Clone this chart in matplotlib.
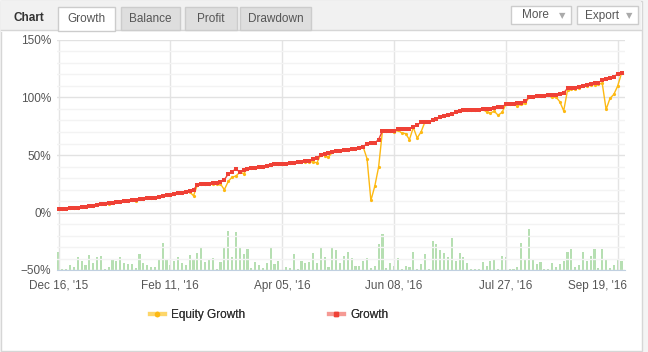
import matplotlib
matplotlib.use("Agg")
import matplotlib.pyplot as plt
from matplotlib.patches import Rectangle
from matplotlib.lines import Line2D
from matplotlib.transforms import ScaledTranslation

plt.rcParams["font.family"] = ["Liberation Sans", "DejaVu Sans"]

# growth in %, one value per point
growth = [3.2, 3.3, 3.3, 3.5, 3.8, 4.1, 4.5, 5.0, 5.4, 6.0,
          6.6, 7.0, 7.5, 8.1, 8.5, 9.0, 9.5, 9.8, 10.2, 10.5,
          11.0, 11.6, 11.9, 12.2, 12.4, 12.7, 13.5, 14.5, 15.2, 15.6,
          16.0, 16.8, 17.2, 17.8, 19.0, 19.8, 24.0, 24.6, 25.0, 25.2,
          25.5, 25.8, 26.3, 28.5, 33.5, 35.5, 38.0, 35.0, 37.2, 38.0,
          38.4, 38.8, 39.2, 39.6, 40.2, 41.5, 41.8, 42.2, 42.5, 42.6,
          42.8, 43.4, 43.8, 44.2, 44.6, 45.2, 46.2, 47.0, 50.3, 51.0,
          51.6, 52.2, 53.2, 53.5, 54.0, 54.5, 55.0, 55.6, 56.2, 57.0,
          60.0, 60.2, 60.5, 63.4, 71.0, 71.0, 71.2, 71.3, 72.4, 72.6,
          72.8, 73.0, 74.4, 76.0, 78.5, 78.6, 78.8, 80.5, 81.7, 83.0,
          84.0, 85.0, 86.0, 87.0, 88.4, 88.8, 89.0, 89.2, 89.3, 89.4,
          89.6, 89.8, 90.2, 90.8, 91.5, 92.0, 94.0, 94.3, 94.5, 94.8,
          95.5, 96.9, 100.0, 100.5, 101.0, 101.3, 101.5, 101.8, 102.0, 102.4,
          102.7, 104.1, 108.0, 108.3, 108.6, 109.2, 110.0, 111.0, 111.6, 112.2,
          112.8, 115.2, 116.0, 116.8, 118.0, 120.5, 121.2]

equity = [3.2, 3.3, 3.3, 3.5, 3.8, 4.1, 4.5, 5.0, 5.4, 6.0,
          6.6, 7.0, 7.5, 7.2, 8.5, 9.0, 9.5, 9.8, 10.2, 10.5,
          9.6, 11.6, 11.9, 12.2, 12.4, 12.7, 13.5, 14.5, 15.2, 15.6,
          16.0, 16.8, 17.2, 17.8, 18.0, 14.5, 24.0, 24.6, 25.0, 25.2,
          24.5, 24.5, 24.8, 19.8, 27.0, 30.8, 31.7, 35.0, 33.8, 38.0,
          38.4, 38.8, 39.2, 39.6, 40.2, 41.5, 41.8, 42.2, 42.5, 42.6,
          42.8, 43.4, 43.8, 43.6, 43.8, 44.2, 44.0, 43.2, 50.3, 49.5,
          48.3, 52.2, 53.2, 53.5, 54.0, 54.5, 55.0, 55.6, 56.2, 57.0,
          46.8, 10.5, 22.7, 39.5, 71.0, 71.0, 71.0, 70.0, 71.5, 69.2,
          68.6, 63.4, 74.0, 64.8, 70.0, 78.6, 78.8, 80.5, 81.7, 83.0,
          84.0, 85.0, 86.0, 87.0, 88.4, 88.8, 89.0, 89.2, 89.3, 89.4,
          89.6, 87.5, 86.7, 88.0, 84.6, 87.0, 94.0, 94.3, 94.0, 93.0,
          94.0, 94.8, 100.0, 100.5, 101.0, 101.3, 101.5, 101.8, 100.0, 100.5,
          96.3, 88.4, 106.5, 107.5, 107.8, 108.4, 110.0, 110.2, 110.8, 111.3,
          111.6, 112.3, 89.6, 99.2, 102.7, 110.0, 121.2]

# bar series (right axis, no scale shown)
volume = [17.7, 1.0, 1.0, 4.7, 2.7, 12.7, 8.7, 4.7, 14.7, 7.3,
          12.7, 14.3, 0.7, 2.7, 10.7, 9.3, 12.7, 6.7, 5.7, 5.7,
          1.7, 15.7, 6.7, 4.7, 2.7, 2.7, 9.7, 26.7, 9.7, 4.7,
          8.7, 12.7, 6.7, 4.7, 14.7, 10.7, 16.7, 23.5, 7.7, 11.0,
          12.3, 1.0, 8.3, 21.7, 39.0, 13.3, 37.7, 22.7, 15.7, 20.7,
          1.7, 8.3, 5.0, 1.7, 6.7, 21.7, 5.7, 9.3, 0.3, 2.7,
          1.7, 15.7, 0.7, 9.3, 6.7, 8.3, 16.7, 7.3, 21.7, 12.7,
          2.7, 21.7, 20.3, 7.3, 14.3, 18.3, 11.7, 4.3, 4.3, 9.3,
          11.7, 1.7, 4.3, 25.7, 35.7, 1.7, 6.7, 4.0, 12.3, 0.7,
          4.0, 3.3, 18.3, 1.0, 5.7, 15.7, 0.7, 29.3, 25.7, 20.3,
          17.3, 13.3, 32.3, 9.3, 16.7, 13.3, 6.7, 0.7, 1.3, 1.3,
          8.3, 4.3, 9.3, 10.7, 1.3, 14.3, 12.7, 0.7, 1.3, 2.7,
          26.7, 9.7, 40.7, 10.7, 6.3, 7.7, 0.7, 1.3, 6.7, 2.7,
          5.7, 8.7, 18.3, 20.7, 2.7, 4.7, 17.7, 8.7, 14.3, 21.3,
          2.3, 21.3, 9.7, 2.3, 4.7, 10.3, 8.7]

tick_pos = [0, 29, 58, 87, 116, 145]
tick_labels = ["Dec 16, '15", "Feb 11, '16", "Apr 05, '16",
               "Jun 08, '16", "Jul 27, '16", "Sep 19, '16"]

x = list(range(len(growth)))

fig = plt.figure(figsize=(6.48, 3.52), dpi=100)
W, H = 648, 352

# frame / header drawn in pixel coords
bg = fig.add_axes([0, 0, 1, 1], zorder=0)
bg.set_xlim(0, W)
bg.set_ylim(H, 0)
bg.axis("off")
bg.add_patch(Rectangle((0, 0), W, H, facecolor="#f4f4f4", edgecolor="none"))
bg.add_patch(Rectangle((0.5, 0.5), 641, 350, facecolor="white", edgecolor="#d6d6d6", lw=1))
bg.add_patch(Rectangle((1, 1), 640, 29, facecolor="#f1f1f1", edgecolor="none"))
bg.plot([1, 641], [30, 30], color="#d6d6d6", lw=1)
bg.text(13, 18, "Chart", fontsize=8.5, fontweight="bold", color="#333333", va="center")
tabs = [("Growth", 58, 57), ("Balance", 121, 59), ("Profit", 185, 52), ("Drawdown", 240, 71)]
for i, (name, tx, tw) in enumerate(tabs):
    fc = "white" if i == 0 else "#dedede"
    bg.add_patch(Rectangle((tx, 7), tw, 24 if i == 0 else 23, facecolor=fc,
                           edgecolor="#cccccc", lw=1, zorder=2))
    bg.text(tx + tw / 2, 18.5, name, fontsize=8.5, color="#555555", ha="center",
            va="center", zorder=3)
bg.add_patch(Rectangle((1, 30), 640, 2, facecolor="white", edgecolor="none", zorder=1))
for name, bx, bw in [("More", 511, 60), ("Export", 577, 61)]:
    bg.add_patch(Rectangle((bx, 6), bw, 18, facecolor="white", edgecolor="#cccccc", lw=1))
    bg.text(bx + bw / 2 - 6, 15.5, name, fontsize=8.5, color="#555555", ha="center", va="center")
    bg.text(bx + bw - 9, 15.5, "\u25bc", fontsize=6, color="#aaaaaa", ha="center",
            va="center", family="DejaVu Sans")

ax = fig.add_axes([57 / W, 1 - 270 / H, (625 - 57) / W, 230 / H], zorder=2)
ax.patch.set_alpha(0)
ax2 = ax.twinx()

ax.set_ylim(-50, 150)
ax.set_xlim(-0.4, 146.9)
ax.set_yticks([-50, 0, 50, 100, 150])
ax.set_yticklabels(["\u221250%", "0%", "50%", "100%", "150%"])
ax.set_yticks(range(-50, 151, 10), minor=True)
ax.set_xticks(tick_pos)
ax.set_xticklabels(tick_labels)
ax.grid(True, which="major", axis="y", color="#e2e2e2", lw=1)
ax.grid(True, which="minor", axis="y", color="#f3f3f3", lw=1)
ax.grid(True, which="major", axis="x", color="#e4e4e4", lw=1)
ax.tick_params(axis="both", which="both", length=0, labelsize=8.5, colors="#555555")
ax.tick_params(axis="x", pad=7)
ax.tick_params(axis="y", pad=4)
for s in ["top", "right", "left"]:
    ax.spines[s].set_visible(False)
ax.spines["bottom"].set_color("#c0d0e0")
ax.set_axisbelow(True)

# last date label is pushed inside the plot, like the original
last = ax.get_xticklabels()[-1]
last.set_horizontalalignment("right")
last.set_transform(last.get_transform() + ScaledTranslation(7 / 72, 0, fig.dpi_scale_trans))

ax2.bar(x, volume, width=0.55, color="#b6dfb2", zorder=1)
ax2.set_ylim(0, 230)
ax2.set_yticks([])
for s in ax2.spines.values():
    s.set_visible(False)

ax.set_zorder(3)
ax2.set_zorder(2)
ax.plot(x, equity, color="#fdb913", lw=1.0, marker="o", ms=2.3, mew=0, zorder=4)
ax.plot(x, growth, color="#ef4136", lw=1.0, marker="s", ms=2.2, mew=0, zorder=5)

h_eq = Line2D([], [], color="#fdd66a", lw=3, marker="o", ms=3, mfc="#fdb913", mec="#fdb913")
h_gr = Line2D([], [], color="#f59a94", lw=3, marker="s", ms=3, mfc="#ef4136", mec="#ef4136")
for h, lab, lx in [(h_eq, "Equity Growth", 139), (h_gr, "Growth", 318)]:
    leg = fig.legend([h], [lab], loc="center left", bbox_to_anchor=(lx / W, 1 - 315 / H),
                     frameon=False, fontsize=8.5, handlelength=1.3, handletextpad=0.55,
                     labelcolor="#333333")
    fig.add_artist(leg)

fig.savefig("out.png", dpi=100)
